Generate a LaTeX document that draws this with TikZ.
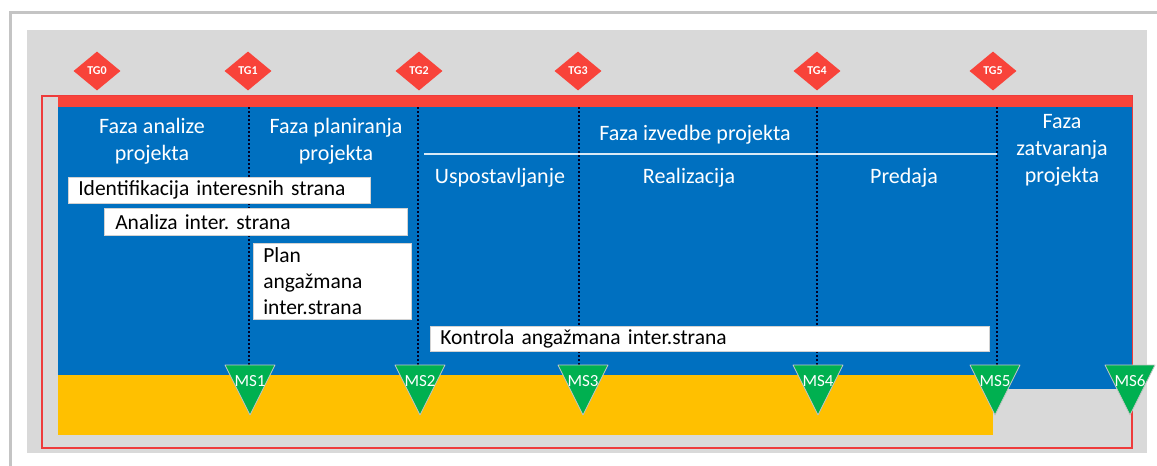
\documentclass[tikz,border=0pt]{standalone}
\usepackage{fontspec}
\setmainfont{Carlito}
\usetikzlibrary{shapes.geometric}
\frenchspacing
\definecolor{bgray}{HTML}{D9D9D9}
\definecolor{framegray}{HTML}{C4C4C4}
\definecolor{pblue}{HTML}{0070C0}
\definecolor{pyellow}{HTML}{FFC000}
\definecolor{pgreen}{HTML}{00B050}
\definecolor{pred}{HTML}{F8433A}
\definecolor{outred}{HTML}{EE3B3B}
\tikzset{
  phase/.style={text=white, font=\fontsize{22}{27}\selectfont, align=center, inner sep=0pt},
  wbox/.style={fill=white, draw=gray!35, line width=0.6pt, anchor=north west, inner ysep=0pt, align=left, font=\fontsize{21.5}{26}\selectfont, text=black},
  vline/.style={draw=black!85!blue, line width=2pt, dash pattern=on 2pt off 2pt},
  tgdia/.style={diamond, fill=pred, minimum width=47pt, minimum height=39pt, inner sep=0pt, text=white, font=\fontsize{12}{12}\bfseries\selectfont},
  mstext/.style={text=white, font=\fontsize{17}{17}\selectfont, inner sep=0pt, anchor=base},
  mstri/.style={fill=pgreen, draw=gray!45, line width=0.7pt, line join=round}
}
\newcommand\mstriangle[3]{%
  \path[mstri] ({#2-25},365) -- ({#2+25},365) -- (#2,415) -- cycle;
  \node[mstext] (#1) at (#2,386) {#3};}
\begin{document}
\begin{tikzpicture}[x=1pt,y=-1pt]
\useasboundingbox (0,0) rectangle (1157,466);
\fill[white] (0,0) rectangle (1157,466);
% outer frame
\draw[framegray, line width=3pt] (10,466) -- (10,12) -- (1157,12);
% gray panel
\fill[bgray] (27,30) rectangle (1147,453);
% red outline
\draw[outred, line width=1.5pt] (42,96) rectangle (1132,448);
% bars
\fill[pred] (58,96) rectangle (1132,107);
\fill[pblue] (58,107) rectangle (1132,389);
\fill[pyellow] (58,375) rectangle (993,435);
% execution header line
\coordinate (hl1) at (424,154);
\coordinate (hl2) at (997,154);
\draw[white!85!pblue, line width=1.5pt] (hl1) -- (hl2);
% dotted verticals
\foreach \i/\x in {1/249,2/418,3/579,4/817,5/997}{
  \coordinate (v\i a) at (\x,107);
  \coordinate (v\i b) at (\x,365);
  \draw[vline] (v\i a) -- (v\i b);
}
% phase labels
\node[phase] (p1) at (152,141.5) {Faza analize\\projekta};
\node[phase] (p2) at (336,141.5) {Faza planiranja\\projekta};
\node[phase, anchor=base] (p3) at (695,140) {Faza izvedbe projekta};
\node[phase, anchor=base] (p3a) at (500,183) {Uspostavljanje};
\node[phase, anchor=base] (p3b) at (689,183) {Realizacija};
\node[phase, anchor=base] (p3c) at (904,183) {Predaja};
\node[phase] (p4) at (1062,150) {Faza\\zatvaranja\\projekta};
% white activity boxes
\node[wbox, minimum width=302pt, minimum height=26pt, text width=282pt, inner xsep=10pt] (a1) at (68,177) {Identifikacija interesnih strana};
\node[wbox, minimum width=303pt, minimum height=27pt, text width=281pt, inner xsep=11pt] (a2) at (104,208) {Analiza inter. strana};
\node[wbox, minimum width=158pt, minimum height=76pt, text width=138pt, inner xsep=10pt] (a3) at (253,243) {Plan\\angažmana\\inter.strana};
\node[wbox, minimum width=559pt, minimum height=25pt, text width=539pt, inner xsep=10pt] (a4) at (430,326) {Kontrola angažmana inter.strana};
% milestones
\mstriangle{ms1}{250}{MS1}
\mstriangle{ms2}{420}{MS2}
\mstriangle{ms3}{583}{MS3}
\mstriangle{ms4}{818}{MS4}
\mstriangle{ms5}{995}{MS5}
\mstriangle{ms6}{1130}{MS6}
% tollgates
\node[tgdia] (tg0) at (97,71) {TG0};
\node[tgdia] (tg1) at (248,71) {TG1};
\node[tgdia] (tg2) at (419,71) {TG2};
\node[tgdia] (tg3) at (578,71) {TG3};
\node[tgdia] (tg4) at (817,71) {TG4};
\node[tgdia] (tg5) at (993,71) {TG5};
\end{tikzpicture}
\end{document}
